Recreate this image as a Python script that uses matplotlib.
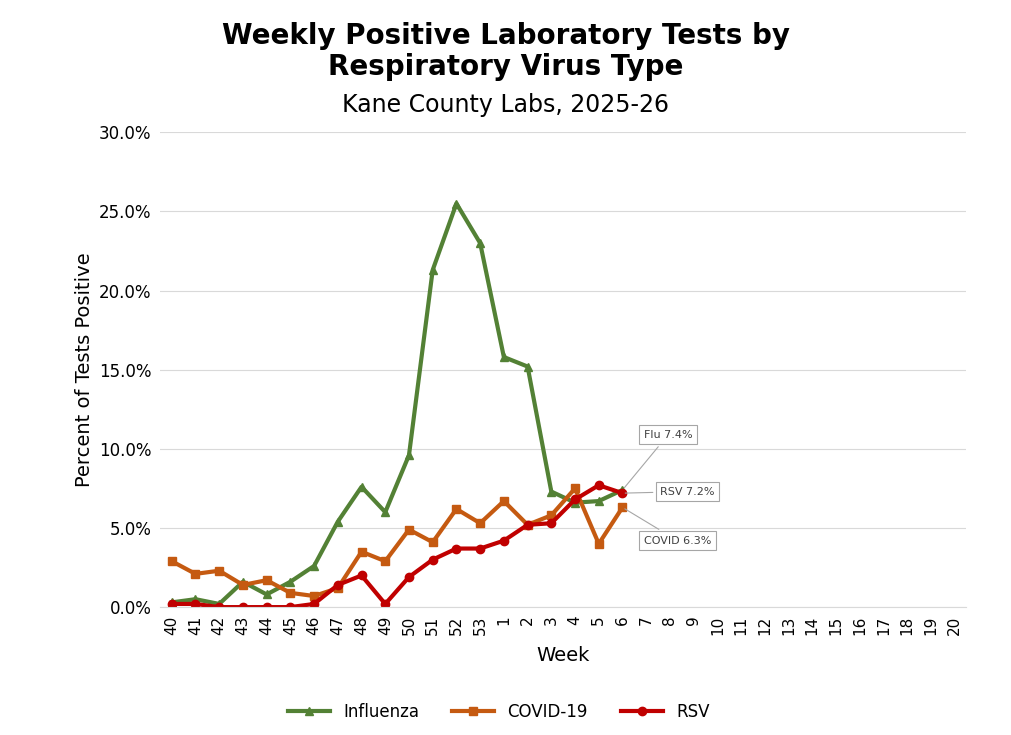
import matplotlib.pyplot as plt

weeks = [str(w) for w in range(40, 54)] + [str(w) for w in range(1, 21)]
y1_flu = [0.3, 0.5, 0.2, 1.6, 0.8, 1.6, 2.6, 5.4, 7.6, 6.0, 9.6, 21.3, 25.5, 23.0,
          15.8, 15.2, 7.3, 6.6, 6.7, 7.4]
y2_covid = [2.9, 2.1, 2.3, 1.4, 1.7, 0.9, 0.7, 1.2, 3.5, 2.9, 4.9, 4.1, 6.2, 5.3,
            6.7, 5.2, 5.8, 7.5, 4.0, 6.3]
y3_rsv = [0.2, 0.2, 0.0, 0.0, 0.0, 0.0, 0.2, 1.4, 2.0, 0.2, 1.9, 3.0, 3.7, 3.7,
          4.2, 5.2, 5.3, 6.8, 7.7, 7.2]

#Figure of weekly positive tests
fig = plt.figure(figsize=(10.12, 7.35), dpi=100)
ax = fig.add_axes([0.158, 0.174, 0.797, 0.646])
x = list(range(len(weeks)))
ax.plot(x[:len(y1_flu)], y1_flu, color='#538135', marker='^', lw=3, ms=6, label='Influenza')
ax.plot(x[:len(y2_covid)], y2_covid, color='#C55A11', marker='s', lw=3, ms=6, label='COVID-19')
ax.plot(x[:len(y3_rsv)], y3_rsv, color='#C00000', marker='o', lw=3, ms=6, label='RSV')

ax.set_xlim(-0.5, len(weeks) - 0.5)
ax.set_ylim(0, 30)
ax.set_xticks(x)
ax.set_xticklabels(weeks, rotation=90, fontsize=11)
ax.set_yticks(range(0, 31, 5))
ax.set_yticklabels(['%.1f%%' % v for v in range(0, 31, 5)], fontsize=12)
ax.grid(axis='y', color='#d9d9d9')
ax.set_axisbelow(True)
for s in ['top', 'right', 'left']:
    ax.spines[s].set_visible(False)
ax.spines['bottom'].set_color('#d9d9d9')
ax.tick_params(length=0, pad=6)
ax.set_xlabel('Week', fontsize=14, labelpad=8)
ax.set_ylabel('Percent of Tests Positive', fontsize=14)

#Callouts on last values
box = dict(boxstyle='square,pad=0.4', fc='white', ec='#a6a6a6', lw=0.8)
arr = dict(arrowstyle='-', color='#a6a6a6', lw=0.8)
last = len(y1_flu) - 1
ax.annotate('Flu %.1f%%' % y1_flu[-1], (last, y1_flu[-1]), xytext=(last + 0.9, 10.7),
            fontsize=8, color='#404040', bbox=box, arrowprops=arr)
ax.annotate('RSV %.1f%%' % y3_rsv[-1], (last, y3_rsv[-1]), xytext=(last + 1.6, 7.3),
            fontsize=8, color='#404040', bbox=box, arrowprops=arr, va='center')
ax.annotate('COVID %.1f%%' % y2_covid[-1], (last, y2_covid[-1]), xytext=(last + 0.9, 4.2),
            fontsize=8, color='#404040', bbox=box, arrowprops=arr, va='center')

fig.text(0.5, 0.93, 'Weekly Positive Laboratory Tests by\nRespiratory Virus Type',
         ha='center', va='center', fontsize=20, fontweight='bold', linespacing=1.1)
fig.text(0.5, 0.857, 'Kane County Labs, 2025-26', ha='center', va='center', fontsize=17)
ax.legend(loc='upper center', bbox_to_anchor=(0.42, -0.17), ncol=3, frameon=False,
          fontsize=12, handlelength=2.5)

fig.savefig('out.png')
